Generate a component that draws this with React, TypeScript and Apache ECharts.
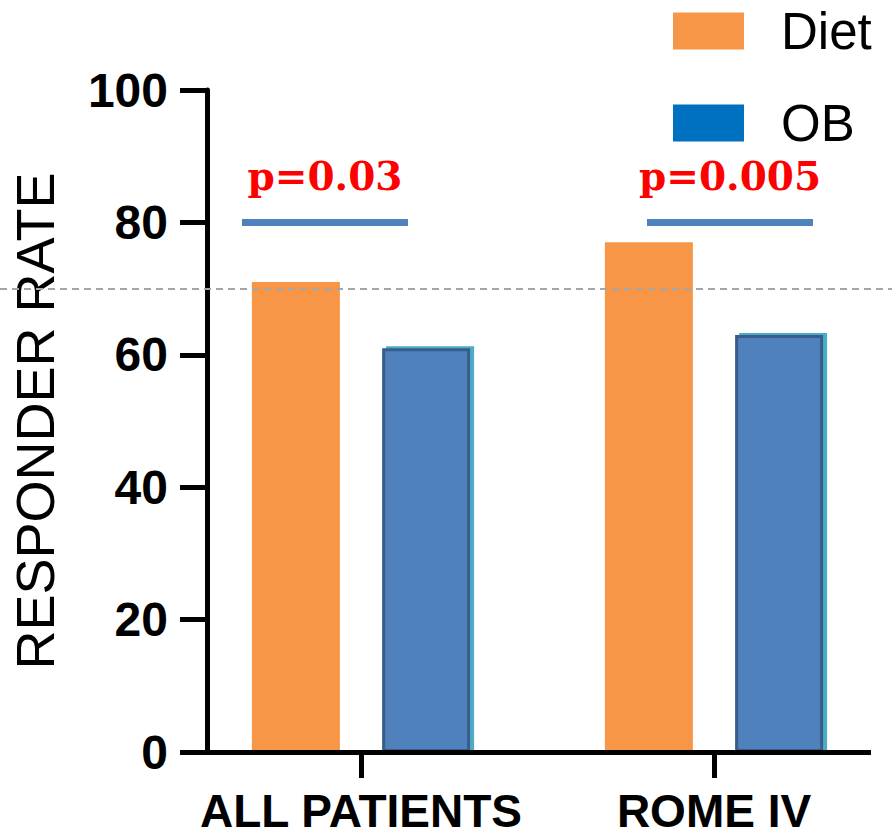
import React, { useEffect, useRef } from "react";
import * as echarts from "echarts";

// Responder rate by group and treatment arm
const categories = ["ALL PATIENTS", "ROME IV"];
const dietValues = [71, 77];
const obValues = [61, 63];
const seriesNames = ["Diet", "OB"];

// Value axis range
const yMin = 0;
const yMax = 100;
const yInterval = 20;

// Reference level (dashed) and significance brackets
const thresholdLevel = 70;
const significanceLevel = 80;
const pLabels = ["p=0.03", "p=0.005"];

const W = 892;
const H = 836;
const SANS = "'Liberation Sans', Arial, sans-serif";
const SERIF = "'DejaVu Serif', 'Liberation Serif', serif";

// pixel extents of the significance brackets and the baseline
const bracketSpans: [number, number][] = [
  [242, 408],
  [647, 813],
];
const baselineSpan: [number, number] = [180, 871];

export default function App() {
  const ref = useRef<HTMLDivElement>(null);

  useEffect(() => {
    if (!ref.current) return;
    const chart = echarts.init(ref.current, null, { renderer: "svg" });

    const bracketLines = bracketSpans.map((span, i) => [
      {
        x: span[0],
        yAxis: significanceLevel,
        lineStyle: { color: "#4F81BD", width: 7, type: "solid" },
        label: {
          show: true,
          position: "middle",
          formatter: pLabels[i],
          color: "#FF0000",
          fontFamily: SERIF,
          fontWeight: "bold",
          fontSize: 39,
          distance: 27,
        },
      },
      { x: span[1], yAxis: significanceLevel },
    ]);

    chart.setOption({
      animation: false,
      backgroundColor: "#ffffff",
      grid: { left: 184.5, right: 1.5, top: 90, bottom: 84, containLabel: false },
      legend: {
        orient: "vertical",
        left: 668,
        top: 0,
        itemWidth: 71,
        itemHeight: 37,
        itemGap: 40,
        icon: "rect",
        selectedMode: false,
        textStyle: {
          fontFamily: SANS,
          fontSize: 51,
          color: "#000",
          lineHeight: 52,
          padding: [0, 0, 0, 32],
        },
        itemStyle: {
          borderWidth: 0,
          shadowBlur: 0,
          shadowOffsetX: 0,
          shadowOffsetY: 0,
          shadowColor: "transparent",
        },
        data: [
          { name: seriesNames[0], itemStyle: { color: "#F79646" } },
          { name: seriesNames[1], itemStyle: { color: "#0070C0" } },
        ],
      },
      xAxis: {
        type: "category",
        data: categories,
        axisLine: { show: false },
        axisTick: {
          show: true,
          alignWithLabel: true,
          length: 26,
          lineStyle: { color: "#000", width: 5 },
        },
        axisLabel: {
          interval: 0,
          margin: 36,
          fontFamily: SANS,
          fontWeight: "bold",
          fontSize: 46,
          lineHeight: 46,
          color: "#000",
        },
      },
      yAxis: {
        type: "value",
        min: yMin,
        max: yMax,
        interval: yInterval,
        offset: -22.5,
        name: "RESPONDER RATE",
        nameLocation: "middle",
        nameGap: 145,
        nameTextStyle: { fontFamily: SANS, fontSize: 54, color: "#000" },
        axisLine: { show: true, lineStyle: { color: "#000", width: 5 } },
        axisTick: { show: true, length: 27, lineStyle: { color: "#000", width: 5 } },
        axisLabel: {
          margin: 39,
          fontFamily: SANS,
          fontWeight: "bold",
          fontSize: 48,
          color: "#000",
        },
        splitLine: { show: false },
      },
      series: [
        {
          name: seriesNames[0],
          type: "bar",
          data: dietValues,
          barWidth: 88,
          barGap: "48%",
          itemStyle: { color: "#F79646" },
          markLine: {
            silent: true,
            symbol: ["none", "none"],
            label: { show: false },
            data: [
              [
                {
                  x: 0,
                  yAxis: thresholdLevel,
                  lineStyle: { color: "#A6A6A6", width: 2, type: [7, 5] },
                },
                { x: W, yAxis: thresholdLevel },
              ],
              [
                {
                  x: baselineSpan[0],
                  yAxis: 0,
                  lineStyle: { color: "#000", width: 5, type: "solid" },
                },
                { x: baselineSpan[1], yAxis: 0 },
              ],
              ...bracketLines,
            ],
          },
        },
        {
          name: seriesNames[1],
          type: "bar",
          data: obValues,
          barWidth: 88,
          itemStyle: {
            color: "#4F81BD",
            borderColor: "#385D8A",
            borderWidth: 3,
            shadowColor: "#4BACC6",
            shadowBlur: 1,
            shadowOffsetX: 4,
            shadowOffsetY: -2,
          },
        },
      ],
    });

    return () => chart.dispose();
  }, []);

  return (
    <div
      ref={ref}
      style={{ position: "fixed", left: 0, top: 0, width: W, height: H, background: "#fff" }}
    />
  );
}
